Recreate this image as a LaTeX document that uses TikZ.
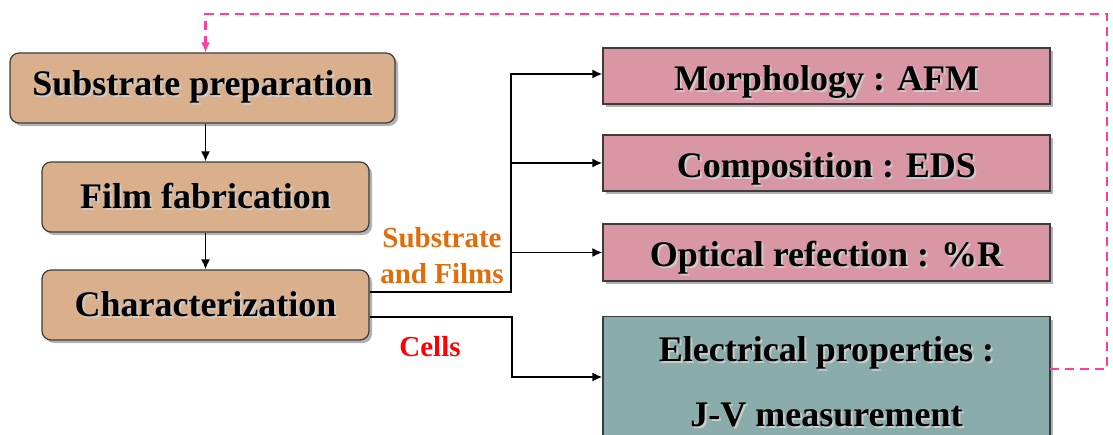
\documentclass[tikz,border=0pt]{standalone}
\usepackage{fontspec}
\setmainfont{Liberation Serif}
\usetikzlibrary{arrows.meta,shadows}
\definecolor{tan}{RGB}{217,176,139}
\definecolor{pinkbox}{RGB}{217,151,165}
\definecolor{tealbox}{RGB}{138,172,170}
\definecolor{hotpink}{RGB}{255,60,160}
\definecolor{lblorange}{RGB}{226,107,10}
\definecolor{lblred}{RGB}{255,0,0}
\definecolor{edge}{RGB}{60,60,60}
\newcommand\tsh[1]{\leavevmode\rlap{\kern2pt\raisebox{-2pt}{\textcolor{black!20}{#1}}}#1}
\tikzset{
  base box/.style={draw=edge, line width=1.2pt, inner sep=0pt,
    font=\fontsize{36}{65}\bfseries\selectfont,
    drop shadow={shadow xshift=3pt, shadow yshift=-3pt, opacity=0.3, fill=black}},
  stagebox/.style={base box, fill=tan, rounded corners=9pt, minimum height=70pt},
  resbox/.style={base box, fill=pinkbox, minimum width=447pt, text height=30pt, text depth=2pt},
  elecbox/.style={base box, fill=tealbox, minimum width=447pt, align=center, inner xsep=0pt, inner ysep=19.5pt},
  arr/.style={line width=1.8pt, -{Latex[length=10pt,width=9pt]}},
  fb/.style={line width=2.6pt, hotpink, dash pattern=on 9pt off 6pt, -{Latex[length=10pt,width=9pt]}},
  lbl/.style={font=\fontsize{29}{36}\bfseries\selectfont, align=center, inner sep=0pt}
}
\begin{document}
\begin{tikzpicture}[x={(1pt,0)}, y={(0,-1pt)}]
\useasboundingbox (0,0) rectangle (1113,434);
\clip (0,0) rectangle (1113,434);
% left column
\node[stagebox, minimum width=385pt] (sub) at (202.5,88) {\tsh{Substrate preparation}};
\node[stagebox, minimum width=327pt] (film) at (205.5,197) {\tsh{Film fabrication}};
\node[stagebox, minimum width=327pt] (char) at (205.5,305) {\tsh{Characterization}};
% right column
\node[resbox, minimum height=56pt] (morph) at (826.5,76) {\tsh{Morphology : AFM}};
\node[resbox, minimum height=56pt] (comp) at (826.5,163) {\tsh{Composition : EDS}};
\node[resbox, minimum height=57pt] (opt) at (826.5,252.5) {\tsh{Optical refection : \%R}};
\node[elecbox, anchor=north] (elec) at (826.5,316) {\tsh{Electrical properties :}\\\tsh{J-V measurement}};
% labels
\node[lbl, text=lblorange] (lsf) at (442,256) {Substrate\\and Films};
\node[lbl, text=lblred, anchor=base] (lcells) at (430,356) {Cells};
% vertical arrows
\draw[arr] (film.north |- sub.south) -- (film.north);
\draw[arr] (film.south) -- (char.north);
% branches
\coordinate (j1) at (511,74);
\coordinate (j2) at (512,377);
\draw[arr] ([yshift=13pt]char.east) -| (j1) -- (j1 -| morph.west);
\draw[arr] (j1 |- comp.west) -- (comp.west);
\draw[arr] (j1 |- opt.west) -- (opt.west);
\draw[arr] ([yshift=-12pt]char.east) -| (j2) -- (j2 -| elec.west);
% feedback
\coordinate (fbstart) at (1050,369);
\coordinate (dtop) at (1107,14);
\draw[fb] (fbstart) -| (dtop) -| (film.north |- sub.north);
\end{tikzpicture}
\end{document}
